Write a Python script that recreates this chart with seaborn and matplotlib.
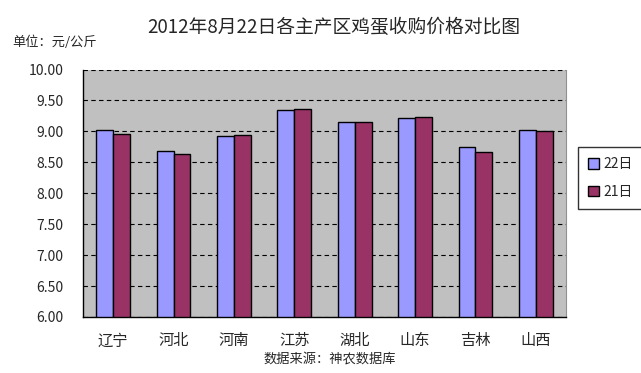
import matplotlib
matplotlib.use("Agg")
import matplotlib.pyplot as plt
import seaborn as sns
import pandas as pd
from matplotlib.ticker import FixedLocator

regions = ["辽宁", "河北", "河南", "江苏", "湖北", "山东", "吉林", "山西"]
series_names = ["22日", "21日"]
price_22 = [9.03, 8.68, 8.92, 9.34, 9.15, 9.21, 8.74, 9.03]
price_21 = [8.96, 8.64, 8.94, 9.36, 9.15, 9.23, 8.67, 9.01]
yticks = [6.0, 6.5, 7.0, 7.5, 8.0, 8.5, 9.0, 9.5, 10.0]

df = pd.DataFrame({
    "地区": regions * 2,
    "日期": [series_names[0]] * len(regions) + [series_names[1]] * len(regions),
    "价格": price_22 + price_21,
})

sns.set_style("white")
plt.rcParams["font.family"] = ["Noto Sans CJK SC", "DejaVu Sans"]

fig = plt.figure(figsize=(6.41, 3.73), dpi=100)
ax = fig.add_axes([83 / 641, 1 - 317 / 373, (566 - 83) / 641, (317 - 69.5) / 373])
ax.set_facecolor("#C0C0C0")

sns.barplot(data=df, x="地区", y="价格", hue="日期", ax=ax,
            palette=["#9999FF", "#993366"], width=0.56, gap=0,
            edgecolor="black", linewidth=1.0, saturation=1, errorbar=None)

ax.set_ylim(6.0, 10.0)
ax.set_yticks(yticks)
ax.set_yticklabels([f"{v:.2f}" for v in yticks], fontsize=10)
ax.yaxis.grid(True, color="black", linestyle=(0, (4, 3)), linewidth=0.8)
ax.set_axisbelow(True)
ax.set_xlim(-0.5, len(regions) - 0.5)
ax.xaxis.set_minor_locator(FixedLocator([i + 0.5 for i in range(len(regions) - 1)]))
ax.tick_params(axis="x", which="major", length=0, labelsize=11, pad=11)
ax.tick_params(axis="x", which="minor", direction="in", length=4, color="black", width=0.8)
ax.tick_params(axis="y", length=0, pad=14)
ax.set_xlabel("")
ax.set_ylabel("")

for s in ["left", "bottom"]:
    ax.spines[s].set_visible(True)
    ax.spines[s].set_color("black")
    ax.spines[s].set_linewidth(1.0)
ax.spines["top"].set_visible(False)
ax.spines["right"].set_visible(True)
ax.spines["right"].set_color("#909090")
ax.spines["right"].set_linestyle((0, (1, 1)))

leg = ax.legend(loc="center", bbox_to_anchor=(610 / 641, 1 - 178 / 373),
                bbox_transform=fig.transFigure, frameon=True,
                fontsize=10, handlelength=0.8, handleheight=0.8,
                handletextpad=0.3, labelspacing=1.0, borderpad=0.7,
                borderaxespad=0, fancybox=False)
leg.get_frame().set_edgecolor("black")
leg.get_frame().set_linewidth(1.0)

fig.text(334 / 641, 1 - 27 / 373, "2012年8月22日各主产区鸡蛋收购价格对比图",
         ha="center", va="center", fontsize=13.5)
fig.text(12 / 641, 1 - 42 / 373, "单位：元/公斤", ha="left", va="center", fontsize=9.5)
fig.text(0.515, 1 - 359 / 373, "数据来源：神农数据库", ha="center", va="center", fontsize=9.5)

fig.savefig("out.png", dpi=100, facecolor="white")
